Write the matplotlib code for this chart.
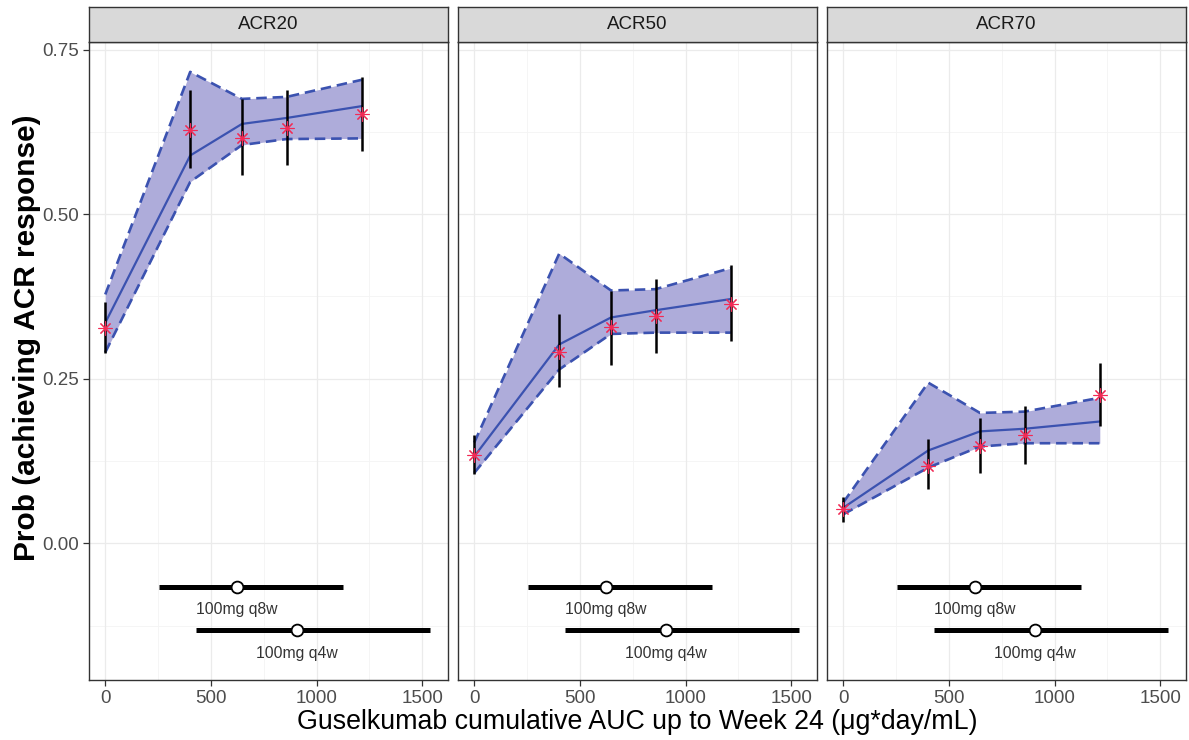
import matplotlib
matplotlib.use("Agg")
import matplotlib.pyplot as plt
import numpy as np

plt.rcParams['font.family'] = ['Liberation Sans', 'DejaVu Sans']

# ---- data ----
panels = ["ACR20", "ACR50", "ACR70"]
auc_bins = [0, 402, 647, 858, 1214]

pred = {
    "ACR20": [0.335, 0.589, 0.637, 0.646, 0.664],
    "ACR50": [0.132, 0.302, 0.343, 0.354, 0.371],
    "ACR70": [0.054, 0.141, 0.170, 0.174, 0.185],
}
pred_lo = {
    "ACR20": [0.290, 0.549, 0.605, 0.614, 0.615],
    "ACR50": [0.107, 0.264, 0.318, 0.320, 0.320],
    "ACR70": [0.044, 0.115, 0.147, 0.152, 0.152],
}
pred_hi = {
    "ACR20": [0.378, 0.716, 0.675, 0.678, 0.704],
    "ACR50": [0.153, 0.440, 0.384, 0.386, 0.418],
    "ACR70": [0.062, 0.244, 0.198, 0.200, 0.221],
}
obs = {
    "ACR20": [0.327, 0.627, 0.616, 0.631, 0.652],
    "ACR50": [0.134, 0.291, 0.328, 0.345, 0.364],
    "ACR70": [0.052, 0.118, 0.148, 0.164, 0.226],
}
obs_lo = {
    "ACR20": [0.289, 0.570, 0.559, 0.574, 0.596],
    "ACR50": [0.106, 0.238, 0.271, 0.289, 0.307],
    "ACR70": [0.033, 0.082, 0.107, 0.121, 0.178],
}
obs_hi = {
    "ACR20": [0.367, 0.688, 0.675, 0.689, 0.709],
    "ACR50": [0.164, 0.348, 0.383, 0.402, 0.423],
    "ACR70": [0.071, 0.158, 0.190, 0.208, 0.274],
}

regimens = ["100mg q8w", "100mg q4w"]
reg_median = [622, 909]
reg_lo = [254, 429]
reg_hi = [1126, 1536]
reg_y = [-0.066, -0.132]
reg_label_y = [-0.101, -0.167]

x_ticks = [0, 500, 1000, 1500]
y_ticks = [0.00, 0.25, 0.50, 0.75]
y_ticklabels = ["0.00", "0.25", "0.50", "0.75"]

# ---- figure ----
W, H = 1189, 740
fig = plt.figure(figsize=(W / 100, H / 100), dpi=100)

lefts = [89, 458, 827]
pw = 359
ax_top, ax_bot = 42, 680
strip_top = 7

band_fill = "#AEACDA"
line_col = "#3B52B0"
star_col = "#F22A55"
grid_major = "#EBEBEB"
grid_minor = "#F4F4F4"
border = "#333333"
tick_col = "#4D4D4D"

for i, name in enumerate(panels):
    l = lefts[i]
    ax = fig.add_axes([l / W, (H - ax_bot) / H, pw / W, (ax_bot - ax_top) / H])
    ax.set_xlim(-77, 1622)
    ax.set_ylim(-0.2076, 0.7614)

    # grid
    for xv in [250, 750, 1250]:
        ax.axvline(xv, color=grid_minor, lw=0.6, zorder=0)
    for yv in [-0.125, 0.125, 0.375, 0.625]:
        ax.axhline(yv, color=grid_minor, lw=0.6, zorder=0)
    for xv in x_ticks:
        ax.axvline(xv, color=grid_major, lw=0.9, zorder=0)
    for yv in y_ticks:
        ax.axhline(yv, color=grid_major, lw=0.9, zorder=0)

    # band
    ax.fill_between(auc_bins, pred_lo[name], pred_hi[name], color=band_fill, lw=0, zorder=1)
    ax.plot(auc_bins, pred_lo[name], color=line_col, lw=1.9, dashes=(4, 2.2), zorder=2)
    ax.plot(auc_bins, pred_hi[name], color=line_col, lw=1.9, dashes=(4, 2.2), zorder=2)
    ax.plot(auc_bins, pred[name], color=line_col, lw=1.6, zorder=2)

    # observed
    ax.vlines(auc_bins, obs_lo[name], obs_hi[name], color="black", lw=1.8, zorder=3)
    ax.plot(auc_bins, obs[name], ls="none", marker=(8, 2, 0), ms=10, mew=0.8,
            color=star_col, zorder=4)

    # regimen exposure ranges
    for j in range(len(regimens)):
        ax.hlines(reg_y[j], reg_lo[j], reg_hi[j], color="black", lw=3.6, zorder=3)
        ax.plot(reg_median[j], reg_y[j], marker="o", ms=8.5, mfc="white", mec="black",
                mew=1.3, zorder=4)
        ax.text(reg_median[j], reg_label_y[j], regimens[j], ha="center", va="center",
                fontsize=11.3, color="#333333")

    ax.set_xticks(x_ticks)
    ax.set_xticklabels([str(v) for v in x_ticks])
    ax.set_yticks(y_ticks)
    if i == 0:
        ax.set_yticklabels(y_ticklabels)
    else:
        ax.tick_params(axis="y", length=0, labelleft=False)
    ax.tick_params(axis="both", colors=border, labelcolor=tick_col, labelsize=13.5,
                   length=4, width=0.9, pad=3)
    if i != 0:
        ax.tick_params(axis="y", length=0)
    for s in ax.spines.values():
        s.set_color(border)
        s.set_linewidth(1.0)

    # strip
    sax = fig.add_axes([l / W, (H - ax_top) / H, pw / W, (ax_top - strip_top) / H])
    sax.set_facecolor("#D9D9D9")
    sax.set_xticks([])
    sax.set_yticks([])
    for s in sax.spines.values():
        s.set_color(border)
        s.set_linewidth(1.0)
    sax.text(0.5, 0.5, name, ha="center", va="center", fontsize=13.5,
             color="#1A1A1A", transform=sax.transAxes)

fig.text((lefts[0] + lefts[2] + pw) / 2 / W, 1 - 722 / H,
         "Guselkumab cumulative AUC up to Week 24 (\u03bcg*day/mL)",
         ha="center", va="center", fontsize=19.3, color="black")
fig.text(27 / W, 1 - 338 / H, "Prob (achieving ACR response)", rotation=90,
         ha="center", va="center", fontsize=21.5, fontweight="bold", color="black")

fig.savefig("out.png", dpi=100)
